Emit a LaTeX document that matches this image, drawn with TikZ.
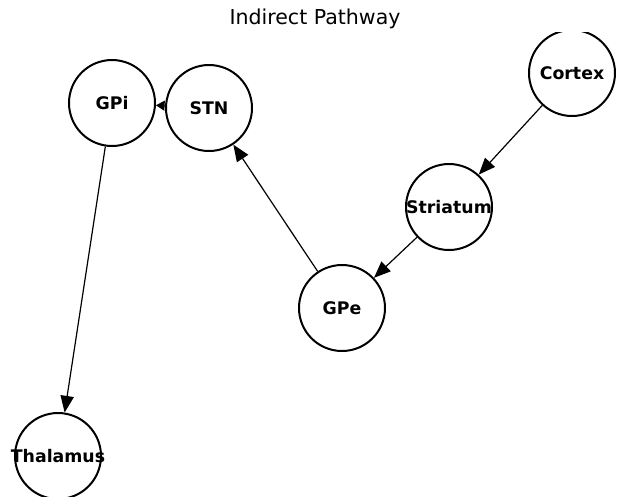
\documentclass[tikz,border=0pt]{standalone}
\usepackage{fontspec}
\setmainfont{DejaVu Sans}
\usetikzlibrary{arrows.meta}

\begin{document}
\begin{tikzpicture}[x=0.75pt,y=-0.75pt,
	region/.style={circle,draw,line width=1.5pt,minimum size=64.5pt,inner sep=0pt,font=\bfseries\fontsize{13}{14}\selectfont},
	link/.style={-{Triangle[length=12.5pt,width=10pt]},line width=0.9pt}]
	\useasboundingbox (0,0) rectangle (622,501);
	\node[font=\fontsize{15.4}{18}\selectfont,anchor=base] (title) at (315,24) {Indirect Pathway};
	\begin{scope}
	\clip (0,32) rectangle (622,496);
	\node[region] (ctx) at (572,73) {\makebox[0pt]{Cortex}};
	\node[region] (str) at (449,207) {\makebox[0pt]{Striatum}};
	\node[region] (gpe) at (342,308) {\makebox[0pt]{GPe}};
	\node[region] (stn) at (209,108) {\makebox[0pt]{STN}};
	\node[region] (gpi) at (112,103) {\makebox[0pt]{GPi}};
	\node[region] (thal) at (58,456) {\makebox[0pt]{Thalamus}};
	\path[link]
	(ctx) edge (str)
	(str) edge (gpe)
	(gpe) edge (stn)
	(stn) edge[-{Triangle[length=6.5pt,width=7.5pt]}] (gpi)
	(gpi) edge (thal);
	\end{scope}
\end{tikzpicture}
\end{document}
